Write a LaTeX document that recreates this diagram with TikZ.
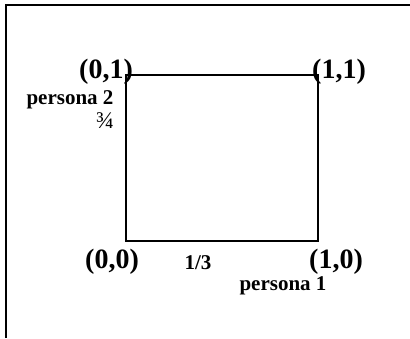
\documentclass[tikz,border=0pt]{standalone}
\usepackage{fontspec}
\setmainfont{Liberation Serif}
\usepackage{tikz}

\begin{document}
\begin{tikzpicture}[x=1pt,y=1pt,
  cornerlabel/.style={inner sep=0pt,font=\bfseries\fontsize{28}{32}\selectfont},
  personlabel/.style={inner sep=0pt,font=\bfseries\fontsize{21}{25}\selectfont},
  fraclabel/.style={inner sep=0pt,font=\fontsize{24}{28}\selectfont}]
\useasboundingbox (0,0) rectangle (410,338);
% frame
\draw[line width=1.6pt] (6,0)--(6,333)--(410,333);
% corners of the square
\coordinate (p00) at (126,97);
\coordinate (p10) at (318,97);
\coordinate (p11) at (318,263);
\coordinate (p01) at (126,263);
\draw[line width=1.5pt] (p00)--(p10)--(p11)--(p01)--cycle;
% labels
\node[cornerlabel] (l01) at (106,266) {(0,1)};
\node[cornerlabel] (l11) at (339,266) {(1,1)};
\node[cornerlabel] (l00) at (112,76) {(0,0)};
\node[cornerlabel] (l10) at (336,76) {(1,0)};
\node[personlabel] (pers2) at (70,238) {persona 2};
\node[fraclabel] (f34) at (105,217) {¾};
\node[personlabel] (f13) at (198,75) {1/3};
\node[personlabel] (pers1) at (283,52) {persona 1};
\end{tikzpicture}
\end{document}
